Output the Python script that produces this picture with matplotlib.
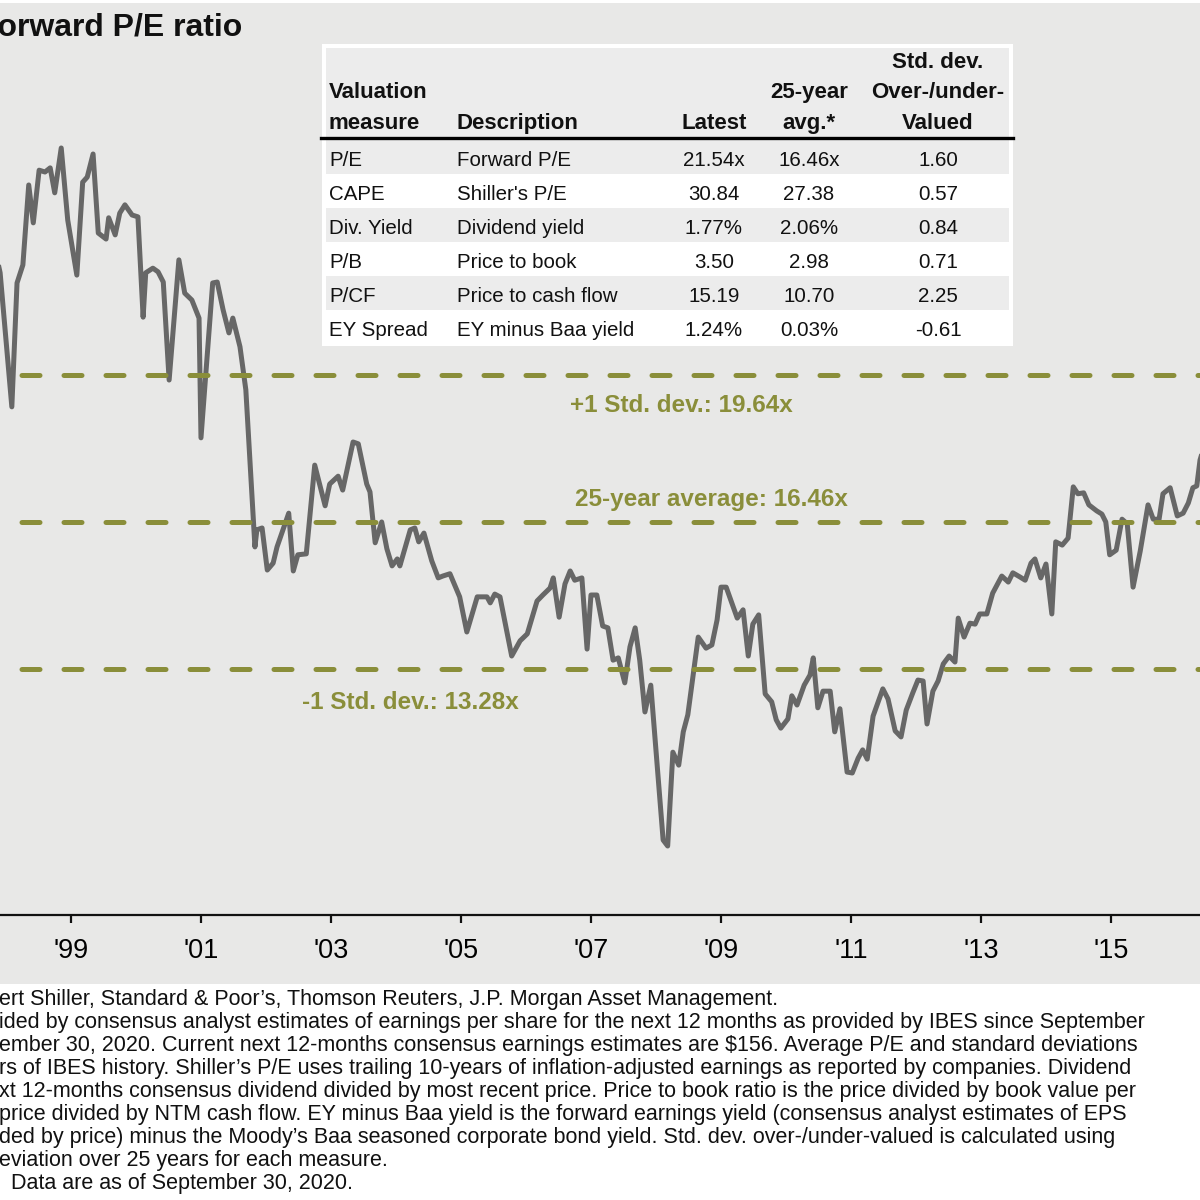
import matplotlib
matplotlib.use("Agg")
import matplotlib.pyplot as plt
from matplotlib.patches import Rectangle
from matplotlib.lines import Line2D

plt.rcParams["font.family"] = ["Liberation Sans", "DejaVu Sans"]

# --- data --------------------------------------------------------------------
years = [
    1997.85, 1997.91, 1998.09, 1998.17, 1998.26, 1998.35, 1998.42, 1998.51, 1998.60, 1998.68,
    1998.75, 1998.85, 1998.95, 1999.09, 1999.18, 1999.25, 1999.34, 1999.42, 1999.54, 1999.58,
    1999.68, 1999.75, 1999.83, 1999.94, 2000.03, 2000.11, 2000.15, 2000.26, 2000.34, 2000.42,
    2000.51, 2000.66, 2000.75, 2000.86, 2000.97, 2001.00, 2001.18, 2001.25, 2001.34, 2001.43,
    2001.49, 2001.60, 2001.69, 2001.83, 2001.86, 2001.94, 2002.02, 2002.11, 2002.17, 2002.35,
    2002.42, 2002.49, 2002.62, 2002.75, 2002.91, 2002.98, 2003.11, 2003.18, 2003.34, 2003.42,
    2003.55, 2003.60, 2003.68, 2003.78, 2003.86, 2003.94, 2004.02, 2004.06, 2004.22, 2004.29,
    2004.35, 2004.43, 2004.55, 2004.65, 2004.72, 2004.83, 2004.98, 2005.09, 2005.25, 2005.40,
    2005.45, 2005.52, 2005.60, 2005.78, 2005.91, 2006.02, 2006.17, 2006.26, 2006.37, 2006.42,
    2006.51, 2006.60, 2006.68, 2006.75, 2006.86, 2006.94, 2007.00, 2007.09, 2007.18, 2007.26,
    2007.34, 2007.42, 2007.52, 2007.60, 2007.68, 2007.75, 2007.83, 2007.92, 2008.11, 2008.18,
    2008.26, 2008.35, 2008.42, 2008.49, 2008.65, 2008.77, 2008.86, 2008.94, 2009.00, 2009.08,
    2009.25, 2009.34, 2009.42, 2009.49, 2009.58, 2009.68, 2009.78, 2009.85, 2009.92, 2010.03,
    2010.09, 2010.17, 2010.28, 2010.37, 2010.42, 2010.49, 2010.57, 2010.68, 2010.75, 2010.83,
    2010.94, 2011.02, 2011.11, 2011.18, 2011.25, 2011.34, 2011.49, 2011.57, 2011.68, 2011.77,
    2011.85, 2011.95, 2012.03, 2012.11, 2012.17, 2012.26, 2012.34, 2012.42, 2012.51, 2012.60,
    2012.65, 2012.74, 2012.83, 2012.91, 2012.98, 2013.09, 2013.18, 2013.32, 2013.42, 2013.49,
    2013.60, 2013.68, 2013.77, 2013.83, 2013.92, 2014.00, 2014.09, 2014.15, 2014.25, 2014.34,
    2014.42, 2014.49, 2014.58, 2014.66, 2014.78, 2014.86, 2014.92, 2014.98, 2015.08, 2015.17,
    2015.25, 2015.34, 2015.45, 2015.57, 2015.65, 2015.74, 2015.80, 2015.91, 2016.02, 2016.11,
    2016.19, 2016.26, 2016.32, 2016.37, 2016.46,
]
forward_pe = [
    22.24, 21.85, 18.95, 21.63, 22.02, 23.75, 22.93, 24.07, 24.03, 24.12,
    23.58, 24.55, 22.99, 21.80, 23.81, 23.92, 24.42, 22.71, 22.58, 23.04,
    22.67, 23.14, 23.32, 23.10, 23.06, 20.89, 21.85, 21.95, 21.87, 21.65,
    19.53, 22.13, 21.41, 21.26, 20.87, 18.28, 21.63, 21.65, 21.05, 20.55,
    20.87, 20.25, 19.32, 15.92, 16.29, 16.33, 15.42, 15.57, 15.92, 16.65,
    15.40, 15.75, 15.77, 17.69, 16.81, 17.28, 17.45, 17.15, 18.19, 18.15,
    17.28, 17.11, 16.01, 16.46, 15.88, 15.51, 15.66, 15.51, 16.29, 16.33,
    16.03, 16.22, 15.62, 15.25, 15.29, 15.34, 14.84, 14.08, 14.84, 14.84,
    14.71, 14.90, 14.84, 13.56, 13.89, 14.04, 14.75, 14.88, 15.03, 15.25,
    14.40, 15.12, 15.40, 15.20, 15.25, 13.71, 14.88, 14.88, 14.21, 14.17,
    13.47, 13.52, 12.98, 13.76, 14.17, 13.47, 12.35, 12.93, 9.58, 9.45,
    11.48, 11.20, 11.92, 12.29, 13.97, 13.73, 13.80, 14.34, 15.05, 15.05,
    14.38, 14.56, 13.56, 14.25, 14.45, 12.74, 12.57, 12.18, 12.00, 12.20,
    12.70, 12.50, 12.93, 13.15, 13.52, 12.44, 12.80, 12.80, 11.92, 12.42,
    11.05, 11.03, 11.35, 11.53, 11.33, 12.26, 12.85, 12.63, 11.94, 11.81,
    12.39, 12.76, 13.04, 13.02, 12.09, 12.80, 13.02, 13.39, 13.56, 13.43,
    14.38, 13.97, 14.27, 14.25, 14.47, 14.47, 14.92, 15.29, 15.16, 15.36,
    15.27, 15.20, 15.57, 15.66, 15.25, 15.55, 14.47, 16.03, 15.96, 16.11,
    17.22, 17.07, 17.09, 16.83, 16.70, 16.63, 16.46, 15.75, 15.85, 16.52,
    16.42, 15.05, 15.83, 16.83, 16.52, 16.52, 17.07, 17.20, 16.59, 16.65,
    16.87, 17.20, 17.24, 17.80, 18.23,
]

ref_levels = [19.64, 16.46, 13.28]
ref_labels = ["+1 Std. dev.: 19.64x", "25-year average: 16.46x", "-1 Std. dev.: 13.28x"]

tick_years = list(range(1999, 2017, 2))
tick_labels = ["'%02d" % (y % 100) for y in tick_years]

measures = ["P/E", "CAPE", "Div. Yield", "P/B", "P/CF", "EY Spread"]
descriptions = ["Forward P/E", "Shiller's P/E", "Dividend yield", "Price to book",
                "Price to cash flow", "EY minus Baa yield"]
latest = ["21.54x", "30.84", "1.77%", "3.50", "15.19", "1.24%"]
avg_25y = ["16.46x", "27.38", "2.06%", "2.98", "10.70", "0.03%"]
std_dev = ["1.60", "0.57", "0.84", "0.71", "2.25", "-0.61"]

footnotes = [
    "ert Shiller, Standard & Poor\u2019s, Thomson Reuters, J.P. Morgan Asset Management.",
    "ided by consensus analyst estimates of earnings per share for the next 12 months as provided by IBES since September",
    "ember 30, 2020. Current next 12-months consensus earnings estimates are $156. Average P/E and standard deviations",
    "rs of IBES history. Shiller\u2019s P/E uses trailing 10-years of inflation-adjusted earnings as reported by companies. Dividend",
    "xt 12-months consensus dividend divided by most recent price. Price to book ratio is the price divided by book value per",
    "price divided by NTM cash flow. EY minus Baa yield is the forward earnings yield (consensus analyst estimates of EPS",
    "ded by price) minus the Moody\u2019s Baa seasoned corporate bond yield. Std. dev. over-/under-valued is calculated using",
    "eviation over 25 years for each measure.",
    "  Data are as of September 30, 2020.",
]

BG = "#e8e8e7"
BAND = "#ececec"
OLIVE = "#8a8e3a"
LINE = "#676767"
W, H = 1200, 1200


def fx(px):
    return px / W


def fy(py):
    return 1 - py / H


fig = plt.figure(figsize=(12, 12), dpi=100)
fig.patch.set_facecolor("white")
fig.add_artist(Rectangle((0, fy(984)), 1, fy(3) - fy(984), transform=fig.transFigure,
                         facecolor=BG, edgecolor="none", zorder=-5))

# main chart: axes run across the whole width, bottom spine at y=915px
ax = fig.add_axes([0, fy(915), 1, 915 / H])
ax.set_facecolor("none")
ax.plot(years, forward_pe, color=LINE, lw=3.6, solid_joinstyle="round", zorder=3)
for lvl in ref_levels:
    ax.axhline(lvl, color=OLIVE, lw=3.6, linestyle=(4.1, (3.6, 4.8)),
               dash_capstyle="round", zorder=4)
for s in ["top", "left", "right"]:
    ax.spines[s].set_visible(False)
ax.spines["bottom"].set_linewidth(1.6)
ax.spines["bottom"].set_color("#111111")
ax.set_yticks([])
ax.set_xticks(tick_years)
ax.set_xticklabels(tick_labels)
ax.tick_params(axis="x", direction="out", length=6, width=1.6, color="#111111",
               labelsize=19.5, pad=10.5)
# limits last, so the tick list cannot widen the view
ax.set_xlim(1997.908, 1997.908 + W / 65)
ax.set_ylim(7.958, 27.751)

# reference line labels
label_pos = [(681, 412), (711, 506), (410, 709)]
for (px, py), txt in zip(label_pos, ref_labels):
    fig.text(fx(px), fy(py), txt, ha="center", va="baseline", color=OLIVE,
             fontsize=17.5, fontweight="bold")

# title (cut off at the left edge like the reference crop)
fig.text(fx(242), fy(36), "Forward P/E ratio", ha="right", va="baseline",
         fontsize=23, fontweight="bold", color="#111111")

# valuation table
tl, tr, tt, tb = 322, 1013, 44, 346
fig.add_artist(Rectangle((fx(tl), fy(tb)), fx(tr) - fx(tl), fy(tt) - fy(tb),
                         transform=fig.transFigure, facecolor="white", edgecolor="none", zorder=1))
fig.add_artist(Rectangle((fx(tl + 4), fy(137)), fx(tr - 4) - fx(tl + 4), fy(48) - fy(137),
                         transform=fig.transFigure, facecolor=BAND, edgecolor="none", zorder=1))
for i in range(0, 6, 2):
    top = 140 + 34 * i
    fig.add_artist(Rectangle((fx(tl + 4), fy(top + 34)), fx(tr - 4) - fx(tl + 4), 34 / H,
                             transform=fig.transFigure, facecolor=BAND, edgecolor="none", zorder=1))
fig.add_artist(Line2D([fx(tl - 1), fx(tr)], [fy(138), fy(138)], transform=fig.transFigure,
                      color="black", lw=2.4, zorder=2))

col_x = [329, 457, 714, 809, 938]
col_ha = ["left", "left", "center", "center", "center"]
header_rows = [
    ["", "", "", "", "Std. dev."],
    ["Valuation", "", "", "25-year", "Over-/under-"],
    ["measure", "Description", "Latest", "avg.*", "Valued"],
]
header_base = [68, 98, 129]
for row, base in zip(header_rows, header_base):
    for txt, x, ha in zip(row, col_x, col_ha):
        if txt:
            fig.text(fx(x), fy(base), txt, ha=ha, va="baseline", fontsize=16,
                     fontweight="bold", color="#111111", zorder=3)

body_cols = [measures, descriptions, latest, avg_25y, std_dev]
for i in range(len(measures)):
    base = 166.5 + 34 * i
    for col, x, ha in zip(body_cols, col_x, col_ha):
        fig.text(fx(x), fy(base), col[i], ha=ha, va="baseline", fontsize=14.8,
                 color="#111111", zorder=3)

# footnotes
for i, line in enumerate(footnotes):
    fig.text(fx(-1), fy(1005 + 23 * i), line, ha="left", va="baseline",
             fontsize=15.5, color="#111111")

fig.savefig("out.png", dpi=100)
